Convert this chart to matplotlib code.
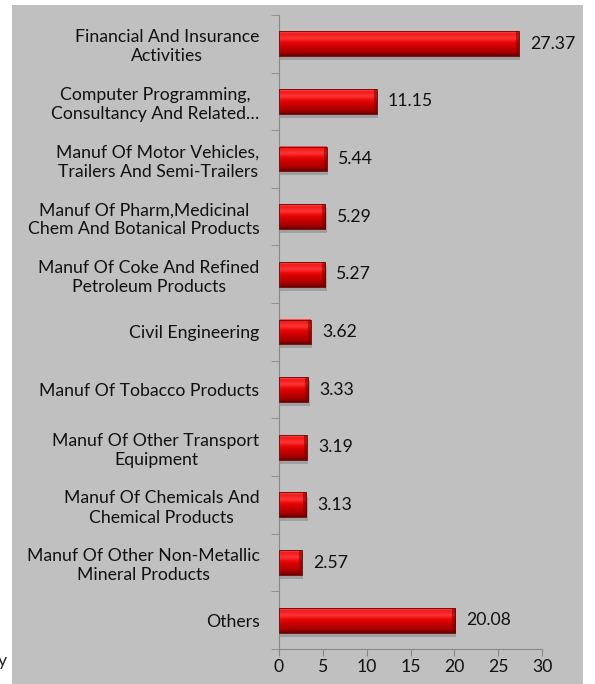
import numpy as np
import matplotlib
matplotlib.use("Agg")
import matplotlib.pyplot as plt
from matplotlib.colors import LinearSegmentedColormap
from matplotlib.patches import Rectangle

plt.rcParams['font.family'] = ['Lato', 'DejaVu Sans']

categories = [
    "Financial And Insurance\nActivities",
    "Computer Programming,\nConsultancy And Related\u2026",
    "Manuf Of Motor Vehicles,\nTrailers And Semi-Trailers",
    "Manuf Of Pharm,Medicinal\nChem And Botanical Products",
    "Manuf Of Coke And Refined\nPetroleum Products",
    "Civil Engineering",
    "Manuf Of Tobacco Products",
    "Manuf Of Other Transport\nEquipment",
    "Manuf Of Chemicals And\nChemical Products",
    "Manuf Of Other Non-Metallic\nMineral Products",
    "Others",
]
values = [27.37, 11.15, 5.44, 5.29, 5.27, 3.62, 3.33, 3.19, 3.13, 2.57, 20.08]
xticks = [0, 5, 10, 15, 20, 25, 30]

fs = 12.7
bg = '#c0c0c0'
fig = plt.figure(figsize=(5.95, 6.84), dpi=100, facecolor='white')
fig.patches.append(Rectangle((0.0202, 0), 0.96, 0.9927, transform=fig.transFigure,
                             facecolor=bg, edgecolor='none', zorder=-5))
fig.text(-0.004, 0.026, 'y', fontsize=fs, color='#222222')

ax = fig.add_axes([0.469, 0.0512, 0.442, 0.927])
ax.set_facecolor('none')

# bevelled red gradient (top -> bottom)
grad = LinearSegmentedColormap.from_list('bevel', [
    (0.0, '#ff5a5a'), (0.10, '#f01818'), (0.28, '#ff3535'), (0.45, '#e80606'),
    (0.60, '#d00000'), (0.85, '#a80000'), (1.0, '#6a0000')])
g = np.linspace(0, 1, 64).reshape(-1, 1)

n = len(values)
ypos = np.arange(n)
h = 0.43
for y, v in zip(ypos, values):
    # shadow
    ax.add_patch(Rectangle((0, y - h / 2 + 0.07), v + 0.15, h, facecolor='#7a7a7a',
                           alpha=0.45, edgecolor='none', zorder=1))
    ax.imshow(g, cmap=grad, aspect='auto', extent=(0, v, y + h / 2, y - h / 2),
              zorder=2, interpolation='bilinear')
    ax.add_patch(Rectangle((0, y - h / 2), v, h, facecolor='none',
                           edgecolor='#6a0000', linewidth=0.6, zorder=3))
    # right end bevel
    ax.add_patch(Rectangle((v - 0.35, y - h / 2), 0.35, h, facecolor='#7a0000',
                           alpha=0.55, edgecolor='none', zorder=3))
    ax.annotate(f"{v:.2f}", xy=(v, y), xytext=(8, 0), textcoords='offset points',
                va='center', ha='left', fontsize=fs, color='#111111')

ax.set_ylim(n - 0.5, -0.5)
ax.set_xlim(0, 30)
ax.set_xticks(xticks)
ax.set_xticklabels([str(t) for t in xticks], fontsize=fs)
ax.set_yticks(ypos)
ax.set_yticklabels(categories, fontsize=fs, ma='center', linespacing=1.25)
ax.set_yticks(np.arange(n + 1) - 0.5, minor=True)
ax.tick_params(axis='y', which='major', length=0, pad=14)
ax.tick_params(axis='y', which='minor', length=6, color='#888888', direction='out')
ax.tick_params(axis='x', length=5, color='#888888', pad=2, labelcolor='#111111')
ax.tick_params(axis='y', labelcolor='#111111')
for s in ['top', 'right']:
    ax.spines[s].set_visible(False)
ax.spines['left'].set_color('#888888')
ax.spines['bottom'].set_color('#888888')

fig.savefig('out.png', dpi=100, facecolor='white')
